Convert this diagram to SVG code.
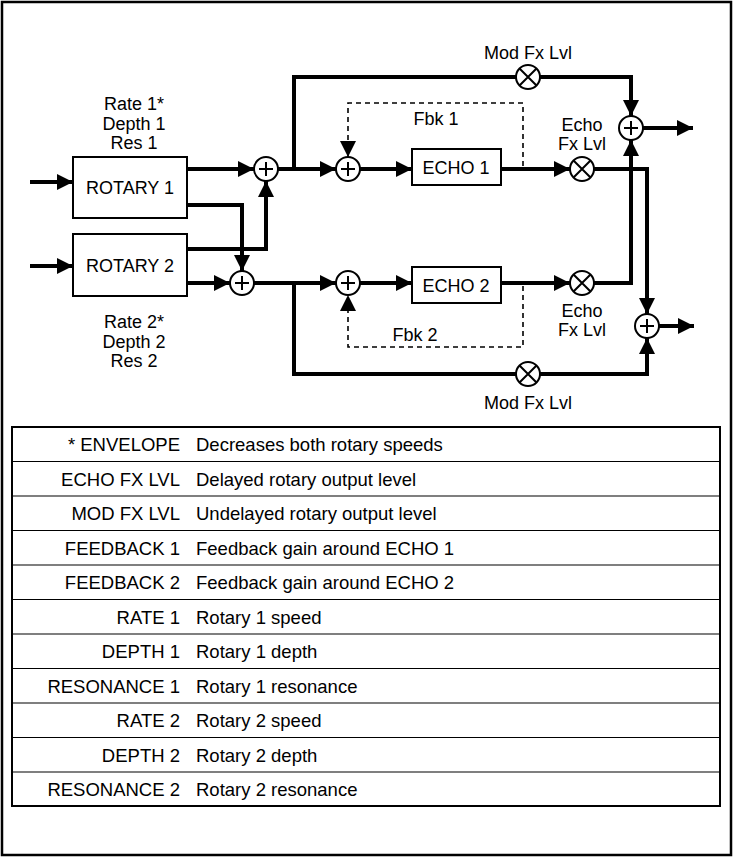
<svg xmlns="http://www.w3.org/2000/svg" width="734" height="859" viewBox="0 0 734 859">
<defs>
<marker id="a" viewBox="0 0 10 10" refX="10" refY="5" markerWidth="16" markerHeight="16" markerUnits="userSpaceOnUse" orient="auto"><path d="M0,0L10,5L0,10z" fill="#000"/></marker>
<g id="sum"><circle r="12" fill="#fff" stroke="#000" stroke-width="2"/><path d="M-7,0H7M0,-7V7" stroke="#000" stroke-width="2"/></g>
<g id="mul"><circle r="12" fill="#fff" stroke="#000" stroke-width="2"/><path d="M-8.5,-8.5L8.5,8.5M8.5,-8.5L-8.5,8.5" stroke="#000" stroke-width="2"/></g>
</defs>
<style>
text{font-family:"Liberation Sans",Arial,sans-serif;font-size:18px;fill:#000}
.c{text-anchor:middle}.r{text-anchor:end}
.w{fill:none;stroke:#000;stroke-width:4}
.ar{marker-end:url(#a)}
.d{fill:none;stroke:#000;stroke-width:1.6;stroke-dasharray:5,4}
.box{fill:#fff;stroke:#000;stroke-width:2}
.t{font-size:18.5px}
</style>
<rect x="2" y="2" width="729" height="853" fill="#fff" stroke="#000" stroke-width="2.5"/>
<g id="connectors">
<path class="w ar" d="M30,182H73"/>
<path class="w ar" d="M30,266H73"/>
<path class="w ar" d="M187,169H254"/>
<path class="w ar" d="M187,205H242V271"/>
<path class="w ar" d="M187,249H266V181"/>
<path class="w ar" d="M187,283H230"/>
<path class="w ar" d="M278,169H336"/>
<path class="w ar" d="M254,283H336"/>
<path class="w" d="M294,169V77H516"/>
<path class="w ar" d="M540,77H631V116"/>
<path class="w" d="M294,283V374H516"/>
<path class="w ar" d="M540,374H647V338"/>
<path class="w ar" d="M360,169H412"/>
<path class="w ar" d="M360,283H412"/>
<path class="w ar" d="M501,169H570"/>
<path class="w ar" d="M501,283H570"/>
<path class="w ar" d="M594,169H647V314"/>
<path class="w ar" d="M594,283H631V140"/>
<path class="w ar" d="M643,128H693"/>
<path class="w ar" d="M659,326H694"/>
<path class="d ar" d="M523,166V103H348V157"/>
<path class="d ar" d="M523,286V347H348V295"/>
</g>
<g id="rotary1"><rect class="box" x="73" y="157" width="114" height="61"/><text class="c" x="130" y="194">ROTARY 1</text></g>
<g id="rotary2"><rect class="box" x="73" y="234" width="114" height="62"/><text class="c" x="130" y="272">ROTARY 2</text></g>
<g id="echo1"><rect class="box" x="412" y="149" width="89" height="36"/><text class="c" x="456" y="174">ECHO 1</text></g>
<g id="echo2"><rect class="box" x="412" y="267" width="89" height="36"/><text class="c" x="456" y="292">ECHO 2</text></g>
<g id="sum1"><use href="#sum" x="266" y="169"/></g>
<g id="sum2"><use href="#sum" x="242" y="283"/></g>
<g id="sum3"><use href="#sum" x="348" y="169"/></g>
<g id="sum4"><use href="#sum" x="348" y="283"/></g>
<g id="sum5"><use href="#sum" x="631" y="128"/></g>
<g id="sum6"><use href="#sum" x="647" y="326"/></g>
<g id="mod1"><use href="#mul" x="528" y="77"/></g>
<g id="mod2"><use href="#mul" x="528" y="374"/></g>
<g id="echolvl1"><use href="#mul" x="582" y="169"/></g>
<g id="echolvl2"><use href="#mul" x="582" y="283"/></g>
<g id="labels">
<text class="c" x="134" y="110">Rate 1*</text>
<text class="c" x="134" y="130">Depth 1</text>
<text class="c" x="134" y="149">Res 1</text>
<text class="c" x="134" y="328">Rate 2*</text>
<text class="c" x="134" y="348">Depth 2</text>
<text class="c" x="134" y="367">Res 2</text>
<text class="c" x="528" y="59">Mod Fx Lvl</text>
<text class="c" x="528" y="409">Mod Fx Lvl</text>
<text class="c" x="436" y="125">Fbk 1</text>
<text class="c" x="415" y="341">Fbk 2</text>
<text class="c" x="582" y="131">Echo</text>
<text class="c" x="582" y="150">Fx Lvl</text>
<text class="c" x="582" y="317">Echo</text>
<text class="c" x="582" y="336">Fx Lvl</text>
</g>
<g id="table">
<rect x="12" y="427" width="708" height="379" fill="none" stroke="#000" stroke-width="2"/>
<path d="M12,461.5H720M12,496H720M12,530.5H720M12,565H720M12,599.5H720M12,634H720M12,668.5H720M12,703H720M12,737.5H720M12,772H720" stroke="#000" stroke-width="1.2"/>
<text class="r t" x="180" y="451">* ENVELOPE</text><text class="t" x="196" y="451">Decreases both rotary speeds</text>
<text class="r t" x="180" y="486">ECHO FX LVL</text><text class="t" x="196" y="486">Delayed rotary output level</text>
<text class="r t" x="180" y="520">MOD FX LVL</text><text class="t" x="196" y="520">Undelayed rotary output level</text>
<text class="r t" x="180" y="555">FEEDBACK 1</text><text class="t" x="196" y="555">Feedback gain around ECHO 1</text>
<text class="r t" x="180" y="589">FEEDBACK 2</text><text class="t" x="196" y="589">Feedback gain around ECHO 2</text>
<text class="r t" x="180" y="624">RATE 1</text><text class="t" x="196" y="624">Rotary 1 speed</text>
<text class="r t" x="180" y="658">DEPTH 1</text><text class="t" x="196" y="658">Rotary 1 depth</text>
<text class="r t" x="180" y="693">RESONANCE 1</text><text class="t" x="196" y="693">Rotary 1 resonance</text>
<text class="r t" x="180" y="727">RATE 2</text><text class="t" x="196" y="727">Rotary 2 speed</text>
<text class="r t" x="180" y="762">DEPTH 2</text><text class="t" x="196" y="762">Rotary 2 depth</text>
<text class="r t" x="180" y="796">RESONANCE 2</text><text class="t" x="196" y="796">Rotary 2 resonance</text>
</g>
</svg>
